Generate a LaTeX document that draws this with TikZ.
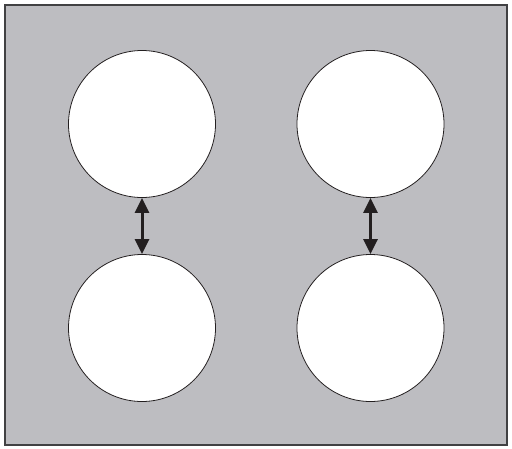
\documentclass[tikz,border=0pt]{standalone}
\usepackage{tikz}
\usetikzlibrary{arrows.meta}
\definecolor{plate}{RGB}{189,189,193}
\definecolor{ink}{RGB}{35,31,32}
\tikzstyle{frame} = [draw={rgb,255:red,65;green,65;blue,67}, line width=2pt, fill=plate]
\tikzstyle{hole} = [circle, minimum size=147pt, inner sep=0pt, draw=ink, line width=0.8pt, fill=white]
\tikzstyle{arrow} = [ink, line width=3pt, {Triangle[length=15pt,width=14pt]}-{Triangle[length=15pt,width=14pt]}]

\begin{document}
\begin{tikzpicture}[x=1pt, y=-1pt, node distance=204pt]
\useasboundingbox (0,0) rectangle (512,448);
\draw [frame] (5,5) rectangle (507,445);

\node (topl) [hole] at (142,124) {};
\node (topr) [hole, right of=topl, xshift=24.5pt] {};
\node (botl) [hole, below of=topl] {};
\node (botr) [hole, below of=topr] {};

\draw [arrow] (topl.south) -- (botl.north);
\draw [arrow] (topr.south) -- (botr.north);

\end{tikzpicture}
\end{document}
